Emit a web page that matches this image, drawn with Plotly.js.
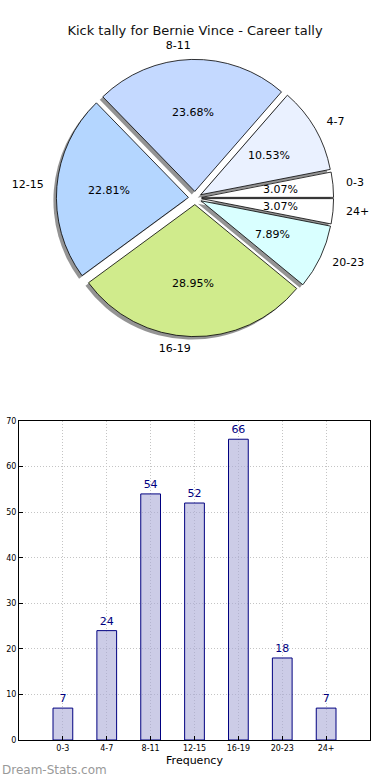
<!DOCTYPE html>
<html>
<head>
<meta charset="utf-8">
<script src="https://cdn.plot.ly/plotly-3.0.1.min.js"></script>
<style>html,body{margin:0;padding:0;background:#fff;}#chart{width:390px;height:780px;}</style>
</head>
<body>
<div id="chart"></div>
<script>
// ---- data ----
var categories = ['0-3', '4-7', '8-11', '12-15', '16-19', '20-23', '24+'];
var kicks = [7, 24, 54, 52, 66, 18, 7];
var sliceColors = ['#ffffff', '#eaf1ff', '#c4d9ff', '#b4d6ff', '#d0eb8c', '#d9ffff', '#ffffff'];
var chartTitle = 'Kick tally for Bernie Vince - Career tally';
var xTitle = 'Frequency';
var watermark = 'Dream-Stats.com';

// ---- derived ----
var total = kicks.reduce(function (a, b) { return a + b; }, 0);
var pctText = kicks.map(function (v) { return (v / total * 100).toFixed(2) + '%'; });
var midAngles = [];
var acc = 0;
kicks.forEach(function (v) {
  var a0 = acc / total * 360;
  acc += v;
  var a1 = acc / total * 360;
  midAngles.push((a0 + a1) / 2);
});
var labelPos = midAngles.map(function (a) {
  return Math.cos(a * Math.PI / 180) >= 0 ? 'middle right' : 'middle left';
});
// plotly places the first counterclockwise slice clockwise of the rotation angle;
// shift so the first slice starts at 3 o'clock and runs counterclockwise
var pieRotation = 90 - kicks[0] / total * 360;

var W = 390, H = 780;
var cx = 195, cy = 198, R = 132, pull = 0.05;
function dom(half, dx, dy) {
  return {
    x: [(cx + dx - half) / W, (cx + dx + half) / W],
    y: [(H - cy - dy - half) / H, (H - cy - dy + half) / H]
  };
}
var pieHalf = R * (1 + pull);
var polarSpan = 1.3;
var font = 'DejaVu Sans, Verdana, sans-serif';

var traces = [
  { // shadow
    type: 'pie', values: kicks, labels: categories, sort: false,
    direction: 'counterclockwise', rotation: pieRotation, pull: pull,
    marker: { colors: kicks.map(function () { return 'rgba(60,60,60,0.55)'; }), line: { width: 0 } },
    textinfo: 'none', hoverinfo: 'skip', showlegend: false,
    domain: dom(pieHalf, -3, 3)
  },
  {
    type: 'pie', values: kicks, labels: categories, sort: false,
    direction: 'counterclockwise', rotation: pieRotation, pull: pull,
    marker: { colors: sliceColors, line: { color: '#000', width: 0.8 } },
    textinfo: 'none', showlegend: false,
    domain: dom(pieHalf, 0, 0)
  },
  {
    type: 'scatterpolar', mode: 'text', r: kicks.map(function () { return 1.1 + pull; }),
    theta: midAngles, text: categories, textposition: labelPos,
    textfont: { family: font, size: 11, color: '#000' },
    cliponaxis: false, hoverinfo: 'skip', showlegend: false, subplot: 'polar'
  },
  {
    type: 'bar', x: categories, y: kicks, width: 0.45,
    marker: { color: 'rgba(170,170,215,0.6)', line: { color: '#000080', width: 1 } },
    text: kicks.map(String), textposition: 'outside', cliponaxis: false,
    textfont: { family: font, size: 11, color: '#000080' },
    hoverinfo: 'x+y', showlegend: false, xaxis: 'x', yaxis: 'y'
  }
];

// percentage labels sit above the pie layer, at (0.6 + pull) radii along each slice's mid-angle
var pctAnnotations = midAngles.map(function (a, i) {
  var t = a * Math.PI / 180, d = (0.6 + pull) * R;
  return {
    text: pctText[i], xref: 'paper', yref: 'paper',
    x: (cx + d * Math.cos(t)) / W, y: (H - cy + d * Math.sin(t)) / H,
    xanchor: 'center', yanchor: 'middle', showarrow: false,
    font: { family: font, size: 11, color: '#000' }
  };
});

var pd = dom(R * polarSpan, 0, 0);
var layout = {
  width: W, height: H,
  margin: { l: 0, r: 0, t: 0, b: 0 },
  paper_bgcolor: '#fff', plot_bgcolor: '#fff',
  font: { family: font, color: '#000' },
  title: { text: chartTitle, x: 0.5, xanchor: 'center', y: 1 - 30 / H, yanchor: 'middle', yref: 'container',
           font: { family: font, size: 13, color: '#111' } },
  polar: {
    domain: pd,
    bgcolor: 'rgba(0,0,0,0)',
    radialaxis: { visible: false, range: [0, polarSpan] },
    angularaxis: { visible: false, rotation: 0, direction: 'counterclockwise' }
  },
  xaxis: {
    domain: [19 / W, 370 / W], anchor: 'y', range: [-1, 7],
    showgrid: true, gridcolor: '#c4c4c4', griddash: '1px,2px', gridwidth: 1,
    showline: true, linecolor: '#000', linewidth: 1, mirror: true,
    ticks: 'inside', ticklen: 4, tickcolor: '#000',
    tickfont: { family: font, size: 8, color: '#000' },
    title: { text: xTitle, font: { family: font, size: 11, color: '#000' }, standoff: 4 },
    zeroline: false, fixedrange: true
  },
  yaxis: {
    domain: [(H - 740) / H, (H - 421) / H], anchor: 'x', range: [0, 70], dtick: 10,
    showgrid: true, gridcolor: '#c4c4c4', griddash: '1px,2px', gridwidth: 1,
    showline: true, linecolor: '#000', linewidth: 1, mirror: true,
    ticks: 'inside', ticklen: 4, tickcolor: '#000',
    tickfont: { family: font, size: 8, color: '#000' },
    zeroline: false, fixedrange: true
  },
  annotations: pctAnnotations.concat([{
    text: watermark, xref: 'paper', yref: 'paper', x: 0, y: 1 - 770 / H,
    xanchor: 'left', yanchor: 'middle', showarrow: false,
    font: { family: font, size: 12, color: '#999' }
  }])
};

Plotly.newPlot('chart', traces, layout, { staticPlot: true, displayModeBar: false });
</script>
</body>
</html>
